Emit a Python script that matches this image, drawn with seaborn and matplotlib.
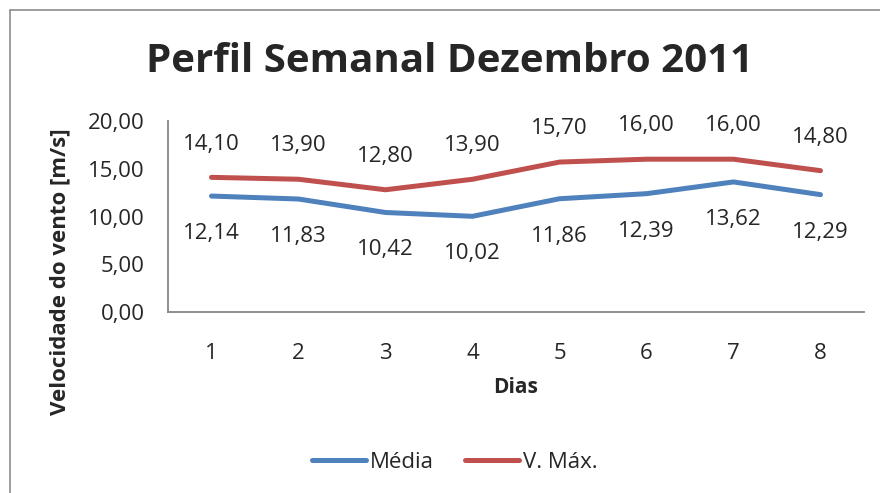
import pandas as pd
import matplotlib.pyplot as plt
import seaborn as sns
from matplotlib.lines import Line2D

dias = [1, 2, 3, 4, 5, 6, 7, 8]
media = [12.14, 11.83, 10.42, 10.02, 11.86, 12.39, 13.62, 12.29]
v_max = [14.10, 13.90, 12.80, 13.90, 15.70, 16.00, 16.00, 14.80]
series_names = ['Média', 'V. Máx.']
colors = ['#4F81BD', '#C0504D']

df = pd.DataFrame({'Dias': dias * 2,
                   'valor': media + v_max,
                   'serie': [series_names[0]] * 8 + [series_names[1]] * 8})

sns.set_style('white')
plt.rcParams['font.family'] = ['Open Sans', 'DejaVu Sans']

fig = plt.figure(figsize=(8.8, 4.93), dpi=100)
ax = fig.add_axes([168 / 880, 1 - 312 / 493, 696 / 880, 191 / 493])

sns.lineplot(data=df, x='Dias', y='valor', hue='serie', palette=colors,
             linewidth=3.6, ax=ax, legend=False, solid_capstyle='round')

# data labels
for x, v in zip(dias, v_max):
    ax.annotate(f'{v:.2f}'.replace('.', ','), (x, v), xytext=(0, 24),
                textcoords='offset points', ha='center', va='center', fontsize=16)
for x, v in zip(dias, media):
    ax.annotate(f'{v:.2f}'.replace('.', ','), (x, v), xytext=(0, -27),
                textcoords='offset points', ha='center', va='center', fontsize=16)

ax.set_xlim(0.5, 8.5)
ax.set_ylim(0, 20)
ax.set_yticks([0, 5, 10, 15, 20])
ax.set_yticklabels([f'{t:.2f}'.replace('.', ',') for t in [0, 5, 10, 15, 20]], fontsize=16)
ax.set_xticks(dias)
ax.set_xticklabels([str(d) for d in dias], fontsize=16)
ax.set_xticks([d + 0.5 for d in [0] + dias], minor=True)
ax.tick_params(axis='x', which='major', length=0, pad=22)
ax.tick_params(axis='x', which='minor', length=7, width=1.3, color='#868686', direction='out')
ax.tick_params(axis='y', length=7, width=1.3, color='#868686', direction='out', pad=10)

for s in ['top', 'right']:
    ax.spines[s].set_visible(False)
for s in ['left', 'bottom']:
    ax.spines[s].set_color('#868686')
    ax.spines[s].set_linewidth(1.3)

ax.set_xlabel('Dias', fontsize=15, fontweight='bold', labelpad=10)
ax.set_ylabel('Velocidade do vento [m/s]', fontsize=16, fontweight='bold')
ax.yaxis.set_label_coords(-0.14, 0.21)

fig.text(450 / 880, 1 - 62 / 493, 'Perfil Semanal Dezembro 2011', ha='center', va='center',
         fontsize=29, fontweight='bold')

handles = [Line2D([], [], color=c, lw=3.6, solid_capstyle='round') for c in colors]
fig.legend(handles, series_names, loc='center', bbox_to_anchor=(455 / 880, 1 - 462 / 493),
           ncol=2, frameon=False, fontsize=16, handlelength=2.4, handletextpad=0.2,
           columnspacing=1.4)

# chart frame (top and left edges visible)
fig.add_artist(Line2D([10 / 880, 1], [1 - 10 / 493, 1 - 10 / 493], color='#8c8c8c', lw=1.2))
fig.add_artist(Line2D([10 / 880, 10 / 880], [0, 1 - 10 / 493], color='#8c8c8c', lw=1.2))

fig.savefig('out.png', dpi=100)
